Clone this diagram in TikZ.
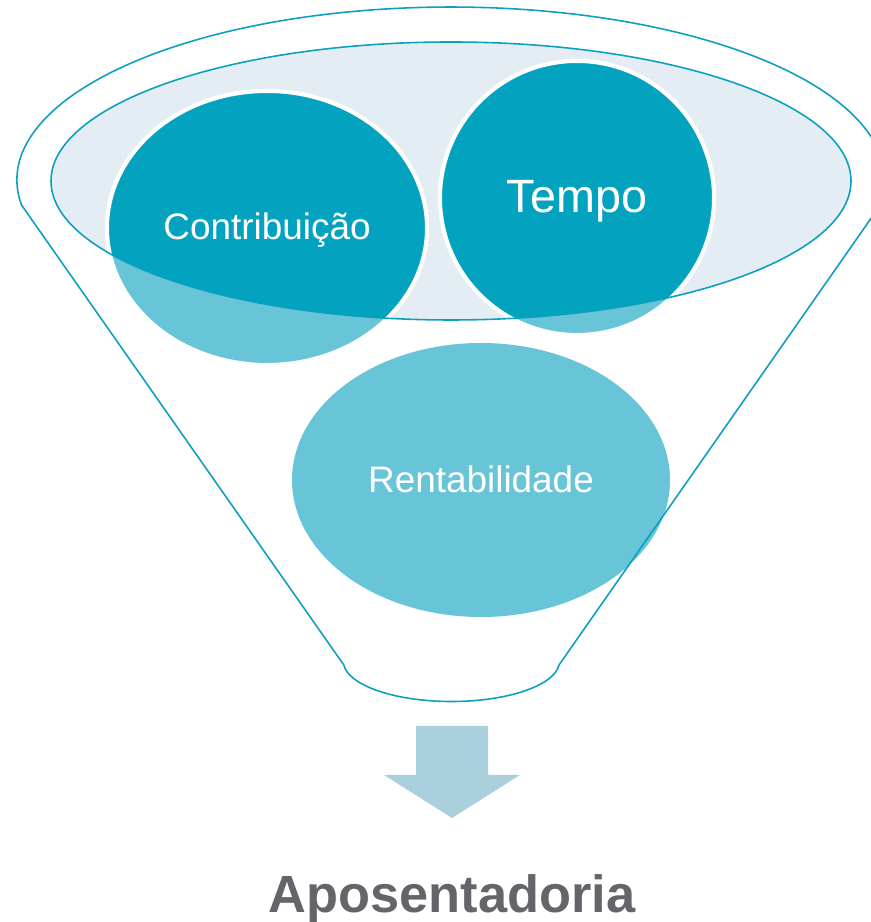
\documentclass[tikz,border=0pt]{standalone}
\usepackage{fontspec}
\setmainfont{Liberation Sans}
\definecolor{funnelline}{RGB}{11,160,191}
\definecolor{darkbubble}{RGB}{3,162,191}
\definecolor{lightbubble}{RGB}{104,197,216}
\definecolor{rimfill}{RGB}{227,237,243}
\definecolor{arrowfill}{RGB}{170,207,221}
\definecolor{labelgray}{RGB}{100,100,106}
\tikzset{
  rim/.style={draw=funnelline, line width=0.9pt},
  bubble/.style={draw=white, line width=2.3pt},
  label/.style={text=white, anchor=base, inner sep=0pt},
}
\begin{document}
\begin{tikzpicture}[x=0.02cm,y=0.02cm]
  \useasboundingbox (0,0) rectangle (871,922);
  \coordinate (contrib) at (267,694);
  \coordinate (tempo) at (577,724);
  \coordinate (rent) at (481,442);
  \coordinate (rimc) at (451,741);

  % inner ellipse of the funnel
  \fill[rimfill] (rimc) ellipse [x radius=400, y radius=139];

  % bubbles, light outside the rim
  \path[bubble, fill=lightbubble] (contrib) ellipse [x radius=160, y radius=137];
  \path[bubble, fill=lightbubble] (tempo) ellipse [x radius=137, y radius=137];
  \path[fill=lightbubble] (rent) ellipse [x radius=189, y radius=137];

  % dark where they lie inside the rim
  \begin{scope}
    \clip (rimc) ellipse [x radius=400, y radius=139];
    \path[bubble, fill=darkbubble] (contrib) ellipse [x radius=160, y radius=137];
    \path[bubble, fill=darkbubble] (tempo) ellipse [x radius=137, y radius=137];
  \end{scope}
  \draw[rim] (rimc) ellipse [x radius=400, y radius=139];

  % funnel outline
  \draw[rim] (21.5,717) arc[start angle=188.3, end angle=-8.3, x radius=434, y radius=173]
    -- (559,257) arc[start angle=-5, end angle=-175, x radius=108, y radius=40] -- cycle;

  \node[label, font=\fontsize{21}{21}\selectfont] (contribtext) at (267,682) {Contribuição};
  \node[label, font=\fontsize{26.6}{26.6}\selectfont] (tempotext) at (577,709) {Tempo};
  \node[label, font=\fontsize{21}{21}\selectfont] (renttext) at (481,429) {Rentabilidade};

  % arrow and result
  \fill[arrowfill] (416,196) -- (488,196) -- (488,147) -- (520,147) -- (452,104)
    -- (384,147) -- (416,147) -- cycle;
  \node[anchor=base, inner sep=0pt, text=labelgray, font=\fontsize{29.8}{29.8}\selectfont\bfseries] (result) at (452,10) {Aposentadoria};
\end{tikzpicture}
\end{document}
